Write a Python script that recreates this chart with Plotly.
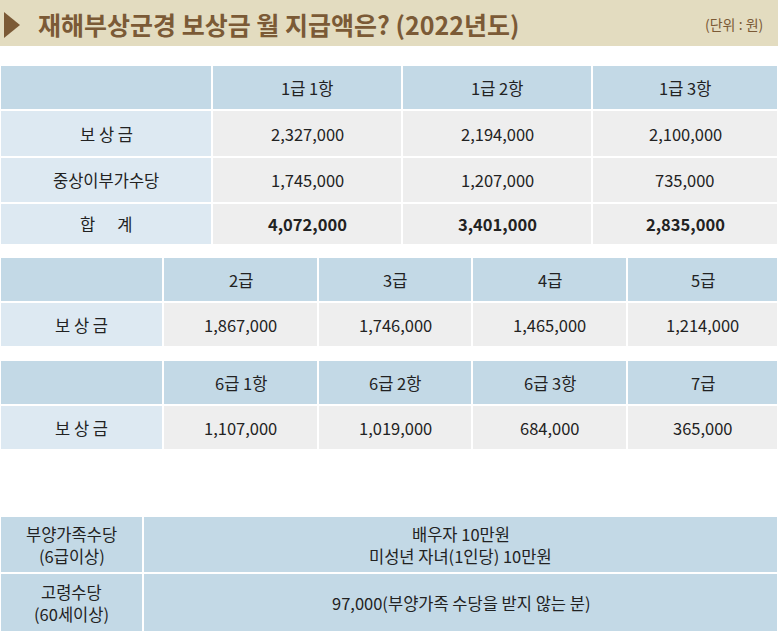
import plotly.graph_objects as go

title = "재해부상군경 보상금 월 지급액은? (2022년도)"
unit = "(단위 : 원)"

t1_cols = ["1급 1항", "1급 2항", "1급 3항"]
t1_rows = ["보 상 금", "중상이부가수당", "합      계"]
t1_vals = [["2,327,000", "2,194,000", "2,100,000"],
           ["1,745,000", "1,207,000", "735,000"],
           ["4,072,000", "3,401,000", "2,835,000"]]
t2_cols = ["2급", "3급", "4급", "5급"]
t2_vals = ["1,867,000", "1,746,000", "1,465,000", "1,214,000"]
t3_cols = ["6급 1항", "6급 2항", "6급 3항", "7급"]
t3_vals = ["1,107,000", "1,019,000", "684,000", "365,000"]
t4_rows = [["부양가족수당", "(6급이상)"], ["고령수당", "(60세이상)"]]
t4_vals = [["배우자 10만원", "미성년 자녀(1인당) 10만원"], ["97,000(부양가족 수당을 받지 않는 분)"]]
row_label = "보 상 금"

HEAD = "#c3d9e6"; LAB = "#dde9f2"; VAL = "#eeeeee"; TXT = "#222222"
FONT = "Noto Sans CJK KR"
shapes, anns = [], []

def cell(x0, x1, y0, y1, fill, text="", bold=False, size=16.5):
    shapes.append(dict(type="rect", x0=x0, x1=x1, y0=y0, y1=y1, fillcolor=fill,
                       line=dict(color="white", width=2), layer="below"))
    lines = text if isinstance(text, list) else ([text] if text else [])
    n = len(lines)
    for k, ln in enumerate(lines):
        t = f"<b>{ln}</b>" if bold else ln
        yc = (y0+y1)/2 + (k - (n-1)/2) * 22
        anns.append(dict(x=(x0+x1)/2, y=yc, text=t, showarrow=False,
                         font=dict(family=FONT, size=size, color=TXT)))

shapes.append(dict(type="rect", x0=0, x1=778, y0=0, y1=46, fillcolor="#e3dcc0", line=dict(width=0)))
shapes.append(dict(type="path", path="M 4 12 L 20 25 L 4 38 Z", fillcolor="#7b5a36", line=dict(width=0)))
anns.append(dict(x=36, y=24, text=f"<b>{title}</b>", showarrow=False, xanchor="left",
                 font=dict(family=FONT, size=25, color="#7b5a36")))
anns.append(dict(x=765, y=24, text=unit, showarrow=False, xanchor="right",
                 font=dict(family=FONT, size=14, color="#7b5a36")))

c1 = [0, 212, 402, 592, 778]
r1 = [65, 110, 157, 203, 245]
cell(c1[0], c1[1], r1[0], r1[1], HEAD)
for j, c in enumerate(t1_cols):
    cell(c1[j+1], c1[j+2], r1[0], r1[1], HEAD, c)
for i, rl in enumerate(t1_rows):
    cell(c1[0], c1[1], r1[i+1], r1[i+2], LAB, rl)
    for j in range(3):
        cell(c1[j+1], c1[j+2], r1[i+1], r1[i+2], VAL, t1_vals[i][j], bold=(i == 2))

c2 = [0, 163, 318, 472, 627, 778]
for (cols, vals, y0) in [(t2_cols, t2_vals, 257), (t3_cols, t3_vals, 360)]:
    cell(c2[0], c2[1], y0, y0+45, HEAD)
    cell(c2[0], c2[1], y0+45, y0+90, LAB, row_label)
    for j in range(4):
        cell(c2[j+1], c2[j+2], y0, y0+45, HEAD, cols[j])
        cell(c2[j+1], c2[j+2], y0+45, y0+90, VAL, vals[j])

r4 = [516, 573, 632]
for i in range(2):
    cell(0, 143, r4[i], r4[i+1], HEAD, t4_rows[i])
    cell(143, 778, r4[i], r4[i+1], HEAD, t4_vals[i])

fig = go.Figure()
fig.update_layout(width=778, height=632, margin=dict(l=0, r=0, t=0, b=0),
                  paper_bgcolor="white", plot_bgcolor="white",
                  xaxis=dict(range=[0, 778], visible=False, fixedrange=True),
                  yaxis=dict(range=[632, 0], visible=False, fixedrange=True),
                  shapes=shapes, annotations=anns, showlegend=False)
fig.write_html("out.html", config={"displayModeBar": False},
               post_script="document.body.style.margin='0';document.body.style.overflow='hidden';")
